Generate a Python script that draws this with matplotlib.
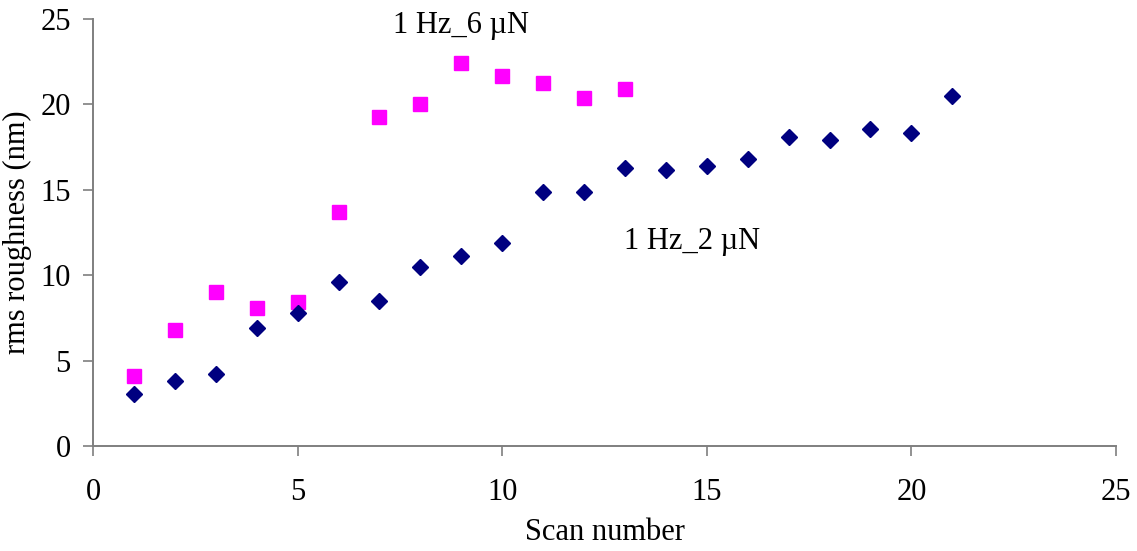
import matplotlib
matplotlib.use("Agg")
import matplotlib.pyplot as plt

scan_6uN = [1, 2, 3, 4, 5, 6, 7, 8, 9, 10, 11, 12, 13]
rms_6uN = [4.07, 6.8, 9.0, 8.1, 8.45, 13.7, 19.27, 20.03, 22.44, 21.65, 21.26, 20.36, 20.91]
scan_2uN = list(range(1, 22))
rms_2uN = [3.02, 3.79, 4.22, 6.93, 7.8, 9.6, 8.48, 10.46, 11.11, 11.87, 14.85, 14.85,
           16.25, 16.13, 16.39, 16.8, 18.11, 17.9, 18.56, 18.33, 20.52]
label_6uN = "1 Hz_6 \u00b5N"
label_2uN = "1 Hz_2 \u00b5N"
xlabel = "Scan number"
ylabel = "rms roughness (nm)"
xticks = [0, 5, 10, 15, 20, 25]
yticks = [0, 5, 10, 15, 20, 25]

plt.rcParams['font.family'] = ['Liberation Serif', 'DejaVu Serif']
fs = 22

fig = plt.figure(figsize=(11.37, 5.51), dpi=100)
ax = fig.add_axes([0.0818, 0.1906, 0.8997, 0.7749])

ax.plot(scan_6uN, rms_6uN, linestyle='none', marker='s', ms=9.5, color='#FF00FF', mec='#FF00FF')
ax.plot(scan_2uN, rms_2uN, linestyle='none', marker='D', ms=8, color='#000080', mec='#000080')

ax.text(9.0, 24.6, label_6uN, fontsize=fs, ha='center', va='center')
ax.text(14.65, 12.0, label_2uN, fontsize=fs, ha='center', va='center')

ax.set_xlim(0, 25)
ax.set_ylim(0, 25)
ax.set_xticks(xticks)
ax.set_yticks(yticks)
for s in ['top', 'right']:
    ax.spines[s].set_visible(False)
for s in ['left', 'bottom']:
    ax.spines[s].set_color('#7f7f7f')
    ax.spines[s].set_linewidth(1.4)
ax.tick_params(axis='both', direction='out', color='#7f7f7f', width=1.2, length=7, labelsize=fs)
ax.tick_params(axis='x', pad=16)
ax.tick_params(axis='y', pad=9)
ax.set_xlabel(xlabel, fontsize=fs, labelpad=8)
ax.set_ylabel(ylabel, fontsize=fs, labelpad=6)

fig.savefig("out.png", dpi=100)
